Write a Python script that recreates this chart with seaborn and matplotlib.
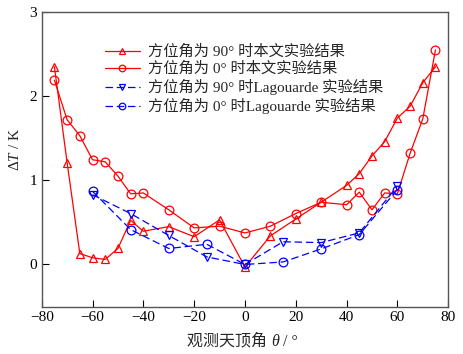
import matplotlib
matplotlib.use("Agg")
import matplotlib.pyplot as plt
import seaborn as sns
import pandas as pd
from matplotlib.offsetbox import TextArea, HPacker, AnchoredOffsetbox

x_this = [-75, -70, -65, -60, -55, -50, -45, -40, -30, -20, -10, 0, 10, 20, 30, 40, 45, 50, 55, 60, 65, 70, 75]
y_90_this = [2.35, 1.21, 0.13, 0.08, 0.06, 0.19, 0.525, 0.395, 0.45, 0.33, 0.53, -0.03, 0.34, 0.54, 0.74, 0.94, 1.08, 1.29, 1.46, 1.74, 1.88, 2.16, 2.35]
y_0_this = [2.19, 1.72, 1.53, 1.245, 1.22, 1.05, 0.84, 0.85, 0.65, 0.435, 0.455, 0.375, 0.455, 0.605, 0.74, 0.71, 0.86, 0.65, 0.85, 0.84, 1.32, 1.73, 2.55]
x_lag = [-60, -45, -30, -15, 0, 15, 30, 45, 60]
y_90_lag = [0.83, 0.605, 0.345, 0.09, 0.0, 0.27, 0.26, 0.375, 0.93]
y_0_lag = [0.87, 0.415, 0.19, 0.24, 0.0, 0.03, 0.185, 0.355, 0.89]

labels = ["方位角为 90° 时本文实验结果", "方位角为 0° 时本文实验结果",
          "方位角为 90° 时Lagouarde 实验结果", "方位角为 0° 时Lagouarde 实验结果"]
xticks = [-80, -60, -40, -20, 0, 20, 40, 60, 80]
yticks = [0, 1, 2, 3]

sns.set_style("ticks")
fam = ['Liberation Serif', 'Noto Sans CJK SC']
plt.rcParams['font.family'] = fam
plt.rcParams['mathtext.fontset'] = 'custom'
plt.rcParams['mathtext.it'] = 'Liberation Serif:italic'
plt.rcParams['mathtext.rm'] = 'Liberation Serif'

fig = plt.figure(figsize=(4.64, 3.54), dpi=100)
ax = fig.add_axes([0.0899, 0.134, 0.876, 0.832])

series = [
    (x_this, y_90_this, labels[0], "#ff0000", "^", None),
    (x_this, y_0_this, labels[1], "#ff0000", "o", None),
    (x_lag, y_90_lag, labels[2], "#0000ff", "v", (6, 3)),
    (x_lag, y_0_lag, labels[3], "#0000ff", "o", (6, 3)),
]
for xs, ys, lab, col, mk, dash in series:
    df = pd.DataFrame({"x": xs, "y": ys})
    kw = {}
    if dash is not None:
        kw["dashes"] = dash
    sns.lineplot(data=df, x="x", y="y", ax=ax, color=col, marker=mk, markersize=6.3,
                 markerfacecolor="none", markeredgecolor=col, markeredgewidth=0.9,
                 linewidth=0.9, label=lab, **kw)

ax.set_xlim(-80, 80)
ax.set_ylim(-0.5, 3)
ax.set_xticks(xticks)
ax.set_yticks(yticks)
ax.set_xticklabels([f"{t}".replace("-", "\u2212") for t in xticks])
ax.tick_params(direction="in", length=5, labelsize=11, colors="black")
for s in ax.spines.values():
    s.set_color("#555555")
    s.set_linewidth(1.0)
ax.set_xlabel("")
ax.set_ylabel("$\\mathit{\\Delta T}$ / K", fontsize=11)
ax.yaxis.set_label_coords(-0.048, 0.535)

parts = [TextArea("观测天顶角 ", textprops=dict(fontsize=11.5, family=fam)),
         TextArea("θ", textprops=dict(fontsize=11.5, family=fam, style="italic")),
         TextArea(" / °", textprops=dict(fontsize=11.5, family=fam))]
box = HPacker(children=parts, align="baseline", pad=0, sep=0)
anch = AnchoredOffsetbox(loc="center", child=box, frameon=False,
                         bbox_to_anchor=(0.522, 0.035), bbox_transform=fig.transFigure,
                         borderpad=0, pad=0)
fig.add_artist(anch)

leg = ax.legend(loc="upper left", bbox_to_anchor=(0.14, 0.91), frameon=False,
                fontsize=11, handlelength=2.3, handletextpad=0.55, labelspacing=0.2,
                borderaxespad=0, markerscale=0.75)
fig.savefig("out.png", dpi=100)
